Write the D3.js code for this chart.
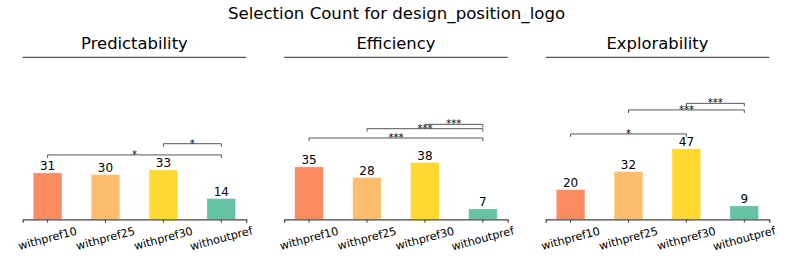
<!DOCTYPE html>
<html>
<head>
    <script src="https://d3js.org/d3.v7.min.js"></script>
    <style>
        body { margin: 0; background: #fff; }
        text { font-family: "DejaVu Sans", sans-serif; fill: #000; }
    </style>
</head>
<body>
<div id="chart"></div>
<script>
    // Data
    const categories = ['withpref10', 'withpref25', 'withpref30', 'withoutpref'];
    const metrics = ['Predictability', 'Efficiency', 'Explorability'];
    const predictability = [31, 30, 33, 14];
    const efficiency = [35, 28, 38, 7];
    const explorability = [20, 32, 47, 9];
    const barColors = ['#fc8d62', '#fdbf6f', '#ffd92f', '#66c2a5'];

    // significance brackets: [from index, to index, level (count units), label]
    const predictabilitySig = [[0, 3, 42.9, '*'], [2, 3, 50.4, '*']];
    const efficiencySig = [[0, 3, 54.2, '***'], [1, 3, 60.4, '***'], [2, 3, 63.3, '***']];
    const explorabilitySig = [[0, 2, 56.9, '*'], [1, 3, 72.9, '***'], [2, 3, 77.3, '***']];

    const seriesList = [predictability, efficiency, explorability];
    const sigList = [predictabilitySig, efficiencySig, explorabilitySig];

    const width = 793;
    const height = 264;

    const svg = d3.select('#chart').append('svg')
                  .attr('width', width)
                  .attr('height', height);

    // Main title
    svg.append('text')
       .attr('x', 396.5)
       .attr('y', 19)
       .attr('text-anchor', 'middle')
       .style('font-size', '16.6px')
       .text('Selection Count for design_position_logo');

    const panelLeft = [22.7, 284.2, 545.7];
    const panelWidth = 223.5;
    const plotTop = 57.3;
    const plotBottom = 219.3;

    // Shared y scale
    const yScale = d3.scaleLinear()
                     .domain([0, 108])
                     .range([plotBottom, plotTop]);

    metrics.forEach((metric, p) => {
        const values = seriesList[p];
        const x0 = panelLeft[p];
        const g = svg.append('g');

        const xScale = d3.scaleBand()
                         .domain(categories)
                         .range([x0, x0 + panelWidth])
                         .paddingInner(0.5)
                         .paddingOuter(0.18);

        // Panel title
        g.append('text')
         .attr('x', x0 + panelWidth / 2)
         .attr('y', 49)
         .attr('text-anchor', 'middle')
         .style('font-size', '16.4px')
         .text(metric);

        // Top line
        g.append('line')
         .attr('x1', x0).attr('x2', x0 + panelWidth)
         .attr('y1', plotTop).attr('y2', plotTop)
         .attr('stroke', '#555')
         .attr('stroke-width', 1.2);

        // Bars
        categories.forEach((c, i) => {
            g.append('rect')
             .attr('x', xScale(c))
             .attr('y', yScale(values[i]))
             .attr('width', xScale.bandwidth())
             .attr('height', yScale(0) - yScale(values[i]))
             .attr('fill', barColors[i])
             .attr('stroke', '#fff')
             .attr('stroke-width', 0.6);

            g.append('text')
             .attr('x', xScale(c) + xScale.bandwidth() / 2)
             .attr('y', yScale(values[i]) - 2.5)
             .attr('text-anchor', 'middle')
             .style('font-size', '12px')
             .text(values[i]);
        });

        // Bottom axis
        const axis = g.append('g')
                      .attr('transform', `translate(0,${plotBottom})`)
                      .call(d3.axisBottom(xScale).tickSizeOuter(0).tickSize(3.5).tickPadding(3));
        axis.select('.domain').attr('stroke', '#444').attr('stroke-width', 1.2);
        axis.selectAll('.tick line').attr('stroke', '#444').attr('stroke-width', 1);
        axis.selectAll('.tick text')
            .attr('y', 0)
            .attr('dy', 0)
            .attr('text-anchor', 'middle')
            .attr('dominant-baseline', 'central')
            .attr('transform', 'translate(0,19.5) rotate(-15)')
            .style('font-size', '11.2px')
            .style('font-family', '"DejaVu Sans", sans-serif')
            .attr('fill', '#000');

        // Significance brackets
        sigList[p].forEach(([a, b, level, label]) => {
            const xa = xScale(categories[a]) + xScale.bandwidth() / 2;
            const xb = xScale(categories[b]) + xScale.bandwidth() / 2;
            const yy = yScale(level);
            g.append('path')
             .attr('d', `M${xa},${yy + 3}V${yy}H${xb}V${yy + 3}`)
             .attr('fill', 'none')
             .attr('stroke', '#555')
             .attr('stroke-width', 1);
            g.append('text')
             .attr('x', (xa + xb) / 2)
             .attr('y', yy + 3)
             .attr('text-anchor', 'middle')
             .style('font-size', '10px')
             .text(label);
        });
    });
</script>
</body>
</html>
